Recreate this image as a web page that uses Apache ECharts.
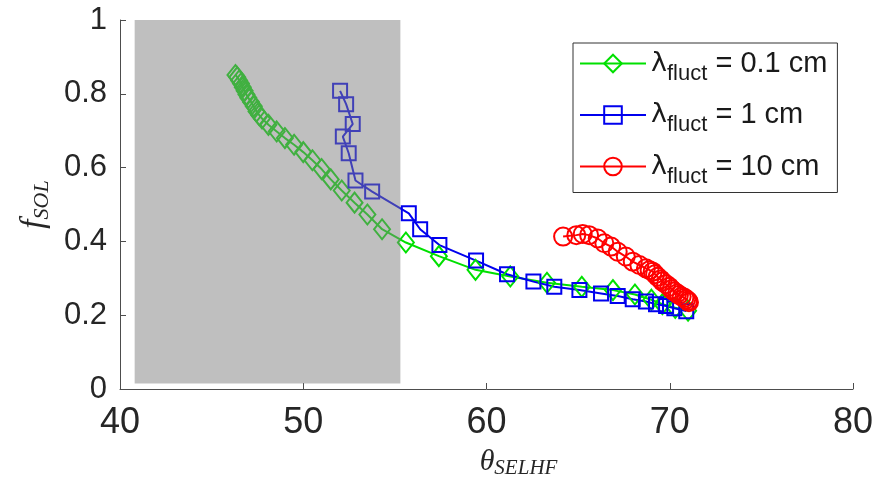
<!DOCTYPE html>
<html>
<head>
<meta charset="utf-8">
<script src="https://cdn.jsdelivr.net/npm/echarts@6/dist/echarts.min.js"></script>
<style>
  html, body { margin: 0; padding: 0; background: #fff; }
  #chart { width: 872px; height: 482px; }
</style>
</head>
<body>
<div id="chart"></div>
<script>
// theta_SELHF (x) and f_SOL (y) for the three fluctuation lengths
const thetaGreen = [46.3, 46.4, 46.5, 46.6, 46.7, 46.8, 46.9, 47.0, 47.15, 47.3, 47.45, 47.6, 47.75,
  48.1, 48.55, 49.0, 49.5, 50.0, 50.5, 51.0, 51.5, 52.1, 52.8, 53.5, 54.3, 55.6, 57.4, 59.4,
  61.3, 63.3, 65.2, 66.9, 68.1, 69.0, 69.6, 70.3, 71.0];
const fGreen = [0.851, 0.845, 0.836, 0.828, 0.818, 0.808, 0.798, 0.789, 0.778, 0.766, 0.752, 0.742, 0.733,
  0.716, 0.698, 0.680, 0.662, 0.642, 0.620, 0.596, 0.568, 0.538, 0.505, 0.473, 0.433, 0.397, 0.360, 0.323,
  0.305, 0.288, 0.277, 0.268, 0.256, 0.242, 0.230, 0.220, 0.212];

const thetaBlue = [52.01, 52.34, 52.7, 52.16, 52.48, 52.85, 53.76, 55.76, 56.38, 57.43, 59.43, 61.12,
  62.56, 63.7, 65.07, 66.25, 67.16, 67.98, 68.7, 69.25, 69.8, 70.25, 70.9];
const fBlue = [0.808, 0.772, 0.718, 0.684, 0.639, 0.565, 0.535, 0.476, 0.433, 0.390, 0.348, 0.311,
  0.291, 0.277, 0.268, 0.259, 0.252, 0.243, 0.237, 0.230, 0.225, 0.219, 0.211];

const thetaRed = [64.18, 64.9, 65.25, 65.6, 66.07, 66.43, 66.8, 67.16, 67.6, 67.98, 68.34, 68.7, 68.9,
  69.07, 69.2, 69.34, 69.5, 69.6, 69.8, 69.98, 70.1, 70.25, 70.4, 70.5, 70.65, 70.8, 70.9, 71.0, 71.05];
const fRed = [0.413, 0.417, 0.420, 0.417, 0.408, 0.395, 0.386, 0.372, 0.359, 0.345, 0.336, 0.327, 0.322,
  0.318, 0.311, 0.304, 0.297, 0.291, 0.284, 0.277, 0.270, 0.264, 0.259, 0.255, 0.251, 0.247, 0.243, 0.239, 0.235];

const seriesNames = ['g', 'b', 'r'];
const legendLabels = ['0.1 cm', '1 cm', '10 cm'];
const shadedRange = [[40.8, 0.015], [55.3, 1.0]];

const xTicks = { min: 40, max: 80, interval: 10 };
const yTicks = { min: 0, max: 1, interval: 0.2 };

const zip = (xs, ys) => xs.map((x, i) => [x, ys[i]]);

const chart = echarts.init(document.getElementById('chart'));

const lineSeries = (name, data, color, symbol, size) => ({
  name: name,
  type: 'line',
  data: data,
  symbol: symbol,
  symbolSize: size,
  showAllSymbol: true,
  z: 2,
  lineStyle: { color: color, width: 2 },
  itemStyle: { color: 'rgba(0,0,0,0)', borderColor: color, borderWidth: 2 },
  emphasis: { disabled: true }
});

chart.setOption({
  animation: false,
  backgroundColor: '#fff',
  grid: { left: 120, right: 19, top: 20, bottom: 93, outerBoundsMode: 'none', containLabel: false },
  xAxis: {
    type: 'value',
    min: xTicks.min, max: xTicks.max, interval: xTicks.interval,
    splitLine: { show: false },
    axisLine: { lineStyle: { color: '#4d4d4d', width: 1 } },
    axisTick: { inside: true, length: 6, lineStyle: { color: '#4d4d4d' } },
    axisLabel: { color: '#262626', fontSize: 36, fontFamily: 'Liberation Sans', margin: 16 },
    name: '{t|θ}{s|SELHF}',
    nameLocation: 'middle',
    nameGap: 56,
    nameTextStyle: {
      padding: [0, 0, 0, 64],
      rich: {
        t: { fontFamily: 'Liberation Serif', fontStyle: 'italic', fontSize: 30, color: '#262626', lineHeight: 34 },
        s: { fontFamily: 'Liberation Serif', fontStyle: 'italic', fontSize: 21, color: '#262626', padding: [12, 0, 0, 0] }
      }
    }
  },
  yAxis: {
    type: 'value',
    min: yTicks.min, max: yTicks.max, interval: yTicks.interval,
    splitLine: { show: false },
    axisLine: { lineStyle: { color: '#4d4d4d', width: 1 } },
    axisTick: { inside: true, length: 6, lineStyle: { color: '#4d4d4d' } },
    axisLabel: { color: '#262626', fontSize: 31, fontFamily: 'Liberation Sans', margin: 13 },
    name: '{t|f}{s|SOL}',
    nameLocation: 'middle',
    nameRotate: 90,
    nameGap: 58,
    nameTextStyle: {
      rich: {
        t: { fontFamily: 'Liberation Serif', fontStyle: 'italic', fontSize: 33, color: '#262626' },
        s: { fontFamily: 'Liberation Serif', fontStyle: 'italic', fontSize: 22, color: '#262626', padding: [16, 0, 0, 0] }
      }
    }
  },
  legend: {
    data: seriesNames,
    orient: 'vertical',
    left: 573,
    top: 43,
    backgroundColor: '#fff',
    borderColor: '#333',
    borderWidth: 1,
    padding: [6, 10, 5, 6],
    itemWidth: 66,
    itemHeight: 22,
    itemGap: 16,
    selectedMode: false,
    formatter: (name) => '{l|λ}{s|fluct}{t| = ' + legendLabels[seriesNames.indexOf(name)] + '}',
    textStyle: {
      rich: {
        l: { fontFamily: 'DejaVu Sans', fontSize: 27, color: '#1a1a1a', lineHeight: 40 },
        s: { fontFamily: 'Liberation Sans', fontSize: 22, color: '#1a1a1a', padding: [20, 0, 0, 0] },
        t: { fontFamily: 'Liberation Sans', fontSize: 29, color: '#1a1a1a', lineHeight: 40 }
      }
    }
  },
  series: [
    lineSeries('g', zip(thetaGreen, fGreen), '#00e000', 'diamond', [16, 20]),
    lineSeries('b', zip(thetaBlue, fBlue), '#0000ee', 'rect', 14),
    lineSeries('r', zip(thetaRed, fRed), '#ff0000', 'circle', 18),
    {
      name: 'shade',
      type: 'line',
      data: [],
      z: 5,
      silent: true,
      markArea: {
        silent: true,
        z: 10,
        itemStyle: { color: 'rgba(128,128,128,0.5)' },
        data: [[{ coord: shadedRange[0] }, { coord: shadedRange[1] }]]
      }
    }
  ]
});
</script>
</body>
</html>
